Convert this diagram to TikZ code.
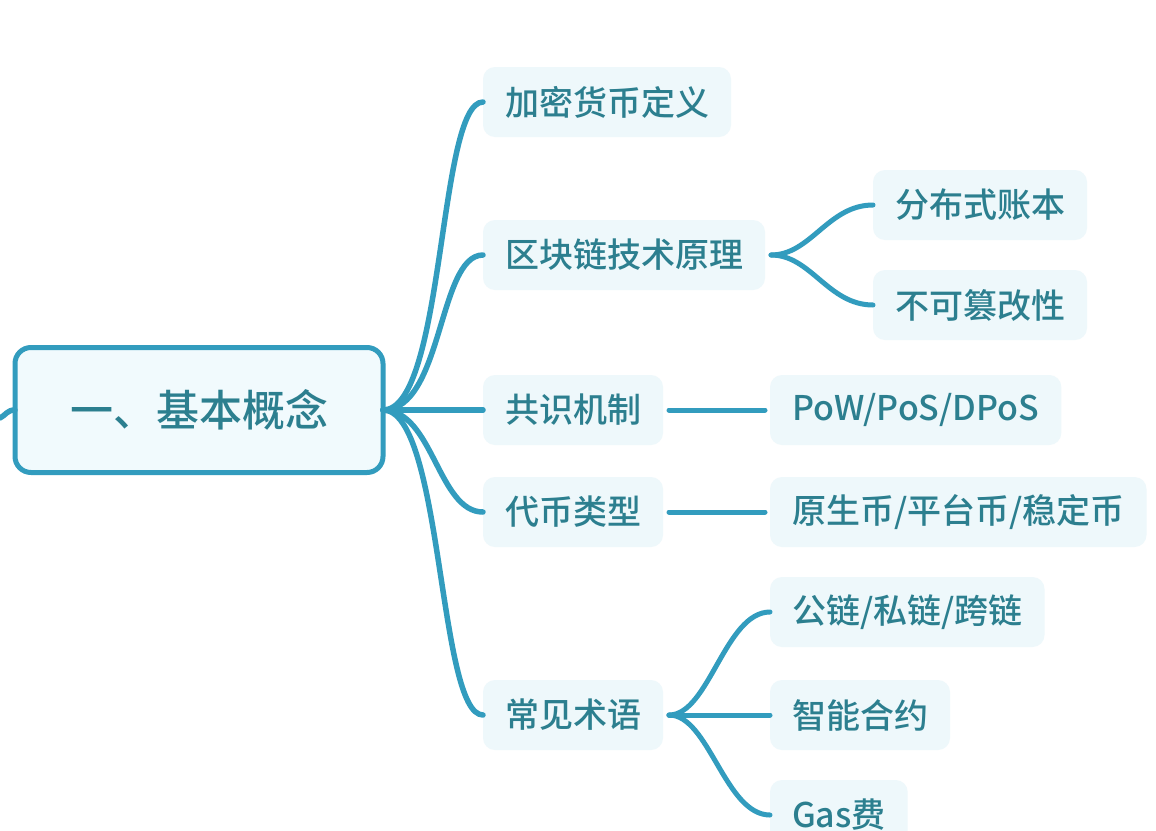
\documentclass[tikz,border=0pt]{standalone}
\usepackage{fontspec}
\setmainfont{Noto Sans CJK SC}[UprightFont={* Medium}]
\definecolor{lineC}{HTML}{329CBE}
\definecolor{txtC}{HTML}{2C7F8F}
\definecolor{boxC}{HTML}{EEF8FB}
\definecolor{rootF}{HTML}{F1FAFD}
\begin{document}
\begin{tikzpicture}[x=1pt,y=-1pt,
  every node/.style={inner sep=0pt,outer sep=0pt},
  rootbox/.style={draw=lineC,line width=5pt,fill=rootF,rounded corners=16pt,
    minimum width=368pt,minimum height=125pt,text=txtC,
    font=\fontsize{43}{50}\selectfont},
  lbox/.style={fill=boxC,rounded corners=12pt,minimum height=70pt,
    inner xsep=22pt,text=txtC,anchor=west,font=\fontsize{34}{40}\selectfont},
  br/.style={draw=lineC,line width=5.5pt,line cap=round},
  br2/.style={draw=lineC,line width=5pt,line cap=round}]
\useasboundingbox[fill=white] (0,0) rectangle (1156,830);
% root
\node[rootbox] (root) at (199,410) {一、基本概念};
\coordinate (lin) at (0,418);
\draw[br] (root.west) .. controls +(-8,0) and +(6,-3) .. (lin);
% level 1
\node[lbox] (a) at (483,102) {加密货币定义};
\node[lbox] (b) at (483,255) {区块链技术原理};
\node[lbox] (c) at (483,410) {共识机制};
\node[lbox] (d) at (483,512) {代币类型};
\node[lbox] (e) at (483,715) {常见术语};
% level 2
\node[lbox] (b1) at (873,205) {分布式账本};
\node[lbox] (b2) at (873,305) {不可篡改性};
\node[lbox] (c1) at (770,410) {PoW/PoS/DPoS};
\node[lbox] (d1) at (770,512) {原生币/平台币/稳定币};
\node[lbox] (e1) at (770,612) {公链/私链/跨链};
\node[lbox] (e2) at (770,715) {智能合约};
\node[lbox] (e3) at (770,815) {Gas费};
% connectors root -> level 1
\draw[br] (root.east) .. controls +(62,0) and +(-45,0) .. (a.west);
\draw[br] (root.east) .. controls +(60,0) and +(-45,0) .. (b.west);
\draw[br] (root.east) -- (c.west);
\draw[br] (root.east) .. controls +(50,0) and +(-45,0) .. (d.west);
\draw[br] (root.east) .. controls +(60,0) and +(-45,0) .. (e.west);
% level 2 connectors
\draw[br2] ([xshift=6pt]b.east) .. controls +(40,0) and +(-45,0) .. (b1.west);
\draw[br2] ([xshift=6pt]b.east) .. controls +(40,0) and +(-45,0) .. (b2.west);
\draw[br2] ([xshift=6pt]c.east) -- ([xshift=-5pt]c1.west);
\draw[br2] ([xshift=6pt]d.east) -- ([xshift=-5pt]d1.west);
\draw[br2] ([xshift=6pt]e.east) .. controls +(40,0) and +(-45,0) .. (e1.west);
\draw[br2] ([xshift=6pt]e.east) -- (e2.west);
\draw[br2] ([xshift=6pt]e.east) .. controls +(40,0) and +(-45,0) .. (e3.west);
\end{tikzpicture}
\end{document}
